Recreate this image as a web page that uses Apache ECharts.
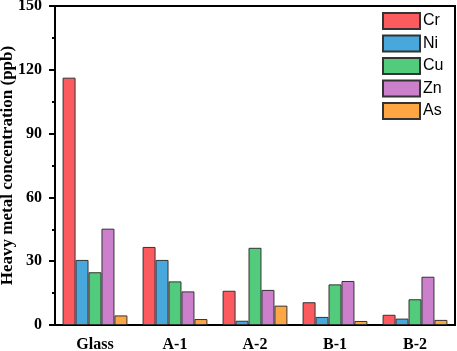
<!DOCTYPE html>
<html>
<head>
<meta charset="utf-8">
<script src="https://cdn.jsdelivr.net/npm/echarts@6/dist/echarts.min.js"></script>
<style>
  html, body { margin: 0; padding: 0; background: #fff; }
  #chart { width: 457px; height: 351px; }
</style>
</head>
<body>
<div id="chart"></div>
<script>
const samples = ['Glass', 'A-1', 'A-2', 'B-1', 'B-2']
const metals = ['Cr', 'Ni', 'Cu', 'Zn', 'As']
const cr = [116.3, 36.7, 16.1, 10.7, 4.8]
const ni = [30.6, 30.6, 2.0, 3.8, 3.0]
const cu = [24.8, 20.5, 36.3, 19.1, 12.1]
const zn = [45.3, 15.8, 16.5, 20.7, 22.7]
const as = [4.5, 2.8, 9.1, 1.9, 2.4]
const yTicks = [0, 30, 60, 90, 120, 150]

const values = [cr, ni, cu, zn, as]
const colors = ['#FB5A5E', '#48A8DB', '#52CB7D', '#CC80CC', '#FFA644']

const serif = '"Liberation Serif", "Times New Roman", serif'
const sans = '"Liberation Sans", Arial, sans-serif'

const chart = echarts.init(document.getElementById('chart'))

chart.setOption({
  animation: false,
  backgroundColor: '#fff',
  grid: {
    left: 55, right: 2, top: 6, bottom: 26,
    outerBoundsMode: 'none',
    containLabel: false,
    show: true, borderColor: '#000', borderWidth: 2
  },
  legend: {
    data: metals,
    orient: 'vertical',
    left: 382,
    top: 12,
    icon: 'rect',
    itemWidth: 37,
    itemHeight: 16,
    itemGap: 4.5,
    padding: 0,
    textStyle: { fontFamily: sans, fontSize: 16, lineHeight: 16, color: '#000', padding: [0, 0, 0, -2] }
  },
  xAxis: [
    {
      type: 'category',
      data: samples,
      axisLine: { lineStyle: { color: '#000', width: 2 } },
      axisTick: { alignWithLabel: true, length: 6, lineStyle: { color: '#000', width: 2 } },
      axisLabel: { fontFamily: serif, fontWeight: 'bold', fontSize: 16, color: '#000', margin: 12 }
    },
    {
      type: 'category',
      data: samples,
      position: 'bottom',
      axisLine: { show: false },
      axisTick: { length: 3, lineStyle: { color: '#000', width: 2 } },
      axisLabel: { show: false }
    }
  ],
  yAxis: {
    type: 'value',
    min: yTicks[0],
    max: yTicks[yTicks.length - 1],
    interval: 30,
    name: 'Heavy metal concentration (ppb)',
    nameLocation: 'middle',
    nameGap: 39,
    nameMoveOverlap: false,
    nameTextStyle: { fontFamily: serif, fontWeight: 'bold', fontSize: 17, color: '#000' },
    axisLine: { show: true, lineStyle: { color: '#000', width: 2 } },
    axisTick: { show: true, length: 6, lineStyle: { color: '#000', width: 2 } },
    minorTick: { show: true, splitNumber: 2, length: 3, lineStyle: { color: '#000', width: 2 } },
    axisLabel: { fontFamily: serif, fontWeight: 'bold', fontSize: 16, color: '#000', margin: 13 },
    splitLine: { show: false }
  },
  series: metals.map((m, i) => ({
    name: m,
    type: 'bar',
    data: values[i],
    barGap: '0%',
    barCategoryGap: '19%',
    itemStyle: { color: colors[i], borderColor: '#333', borderWidth: 1 }
  }))
})
</script>
</body>
</html>
